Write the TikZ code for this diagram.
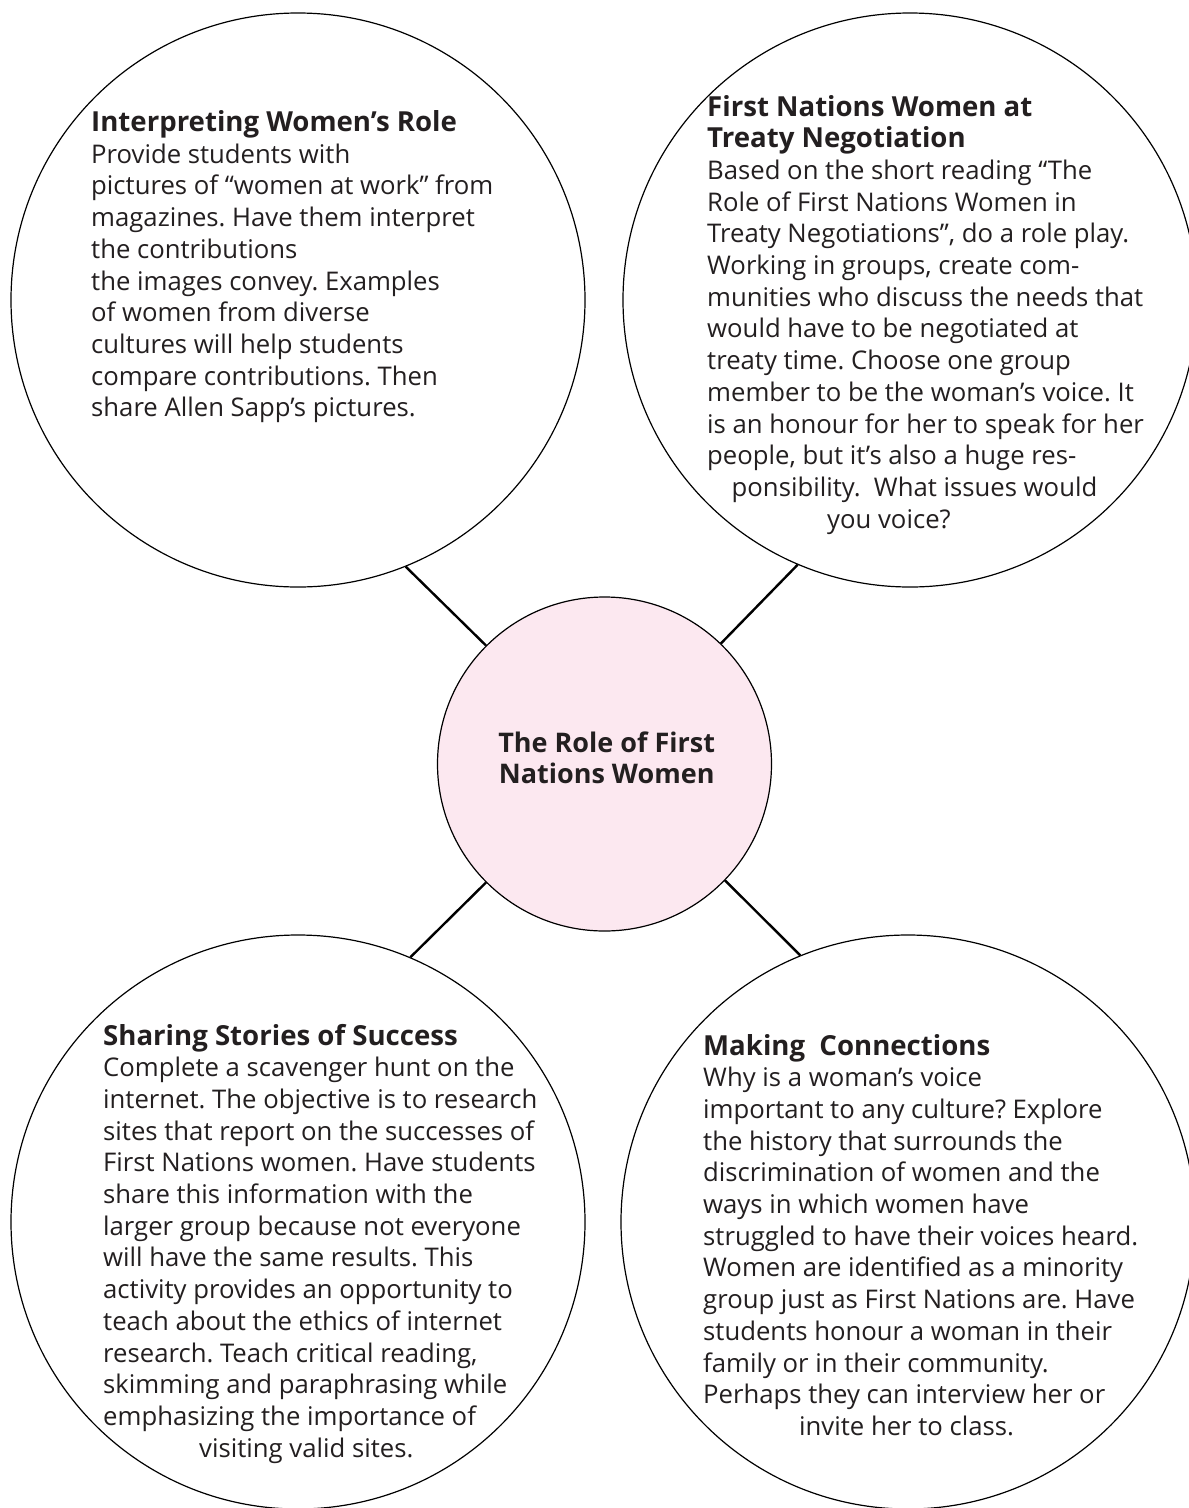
\documentclass[tikz,border=0pt]{standalone}
\usepackage{fontspec}
\setmainfont{Open Sans}
\definecolor{txt}{HTML}{231F20}
\definecolor{pinkfill}{RGB}{252,232,240}
\newcommand\rowline[1]{\hbox{#1}}
\newcommand\headline[1]{\hbox{\fontsize{27.6}{31.7}\selectfont\bfseries #1}}
\newcommand\midline[1]{\hbox to 0pt{\hss#1\hss}}
\begin{document}
\frenchspacing
\begin{tikzpicture}[x=1pt,y=-1pt,
  bubble/.style={circle,draw=black,line width=1.2pt,minimum size=574pt,inner sep=0pt},
  hub/.style={circle,draw=black,line width=1.2pt,fill=pinkfill,minimum size=334pt,inner sep=0pt},
  link/.style={line width=2.4pt,draw=black},
  body/.style={anchor=base west,inner sep=0pt,text=txt,font=\fontsize{25.7}{31.7}\selectfont}]
\useasboundingbox (0,0) rectangle (1189,1508);
\fill[white] (0,0) rectangle (1189,1508);

\node[bubble] (tl) at (298,300) {};
\node[bubble] (tr) at (910,300) {};
\node[bubble] (bl) at (298,1222) {};
\node[bubble] (br) at (908,1222) {};
\node[hub] (hub) at (604.5,764) {};

\draw[link] (tl.-68) -- (hub.135);
\draw[link] (tr.-113) -- (hub.46);
\draw[link] (bl.67) -- (hub.-135);
\draw[link] (br.112) -- (hub.-44);

\node[body] (tltext) at (91,131.5) {\vtop{%
\headline{Interpreting Women’s Role}
\rowline{Provide students with}
\rowline{pictures of “women at work” from}
\rowline{magazines. Have them interpret}
\rowline{the contributions}
\rowline{the images convey. Examples}
\rowline{of women from diverse}
\rowline{cultures will help students}
\rowline{compare contributions. Then}
\rowline{share Allen Sapp’s pictures.}}};

\node[body] (trtext) at (707,116) {\vtop{%
\headline{First Nations Women at}
\headline{Treaty Negotiation}
\rowline{Based on the short reading “The}
\rowline{Role of First Nations Women in}
\rowline{Treaty Negotiations”, do a role play.}
\rowline{Working in groups, create com-}
\rowline{munities who discuss the needs that}
\rowline{would have to be negotiated at}
\rowline{treaty time. Choose one group}
\rowline{member to be the woman’s voice. It}
\rowline{is an honour for her to speak for her}
\rowline{people, but it’s also a huge res-}
\rowline{\kern24.5pt ponsibility.\ \ What issues would}
\rowline{\kern120pt you voice?}}};

\node[body] (bltext) at (103,1045) {\vtop{%
\headline{Sharing Stories of Success}
\rowline{Complete a scavenger hunt on the}
\rowline{internet. The objective is to research}
\rowline{sites that report on the successes of}
\rowline{First Nations women. Have students}
\rowline{share this information with the}
\rowline{larger group because not everyone}
\rowline{will have the same results. This}
\rowline{activity provides an opportunity to}
\rowline{teach about the ethics of internet}
\rowline{research. Teach critical reading,}
\rowline{skimming and paraphrasing while}
\rowline{emphasizing the importance of}
\rowline{\kern96pt visiting valid sites.}}};

\node[body] (brtext) at (703,1055) {\vtop{%
\headline{Making\ \ Connections}
\rowline{Why is a woman’s voice}
\rowline{important to any culture? Explore}
\rowline{the history that surrounds the}
\rowline{discrimination of women and the}
\rowline{ways in which women have}
\rowline{struggled to have their voices heard.}
\rowline{Women are identified as a minority}
\rowline{group just as First Nations are. Have}
\rowline{students honour a woman in their}
\rowline{family or in their community.}
\rowline{Perhaps they can interview her or}
\rowline{\kern96pt invite her to class.}}};

\node[anchor=base west,inner sep=0pt,text=txt,font=\fontsize{27}{31}\selectfont\bfseries] (hubtext) at (606,752) {\vtop{%
\midline{The Role of First}
\midline{Nations Women}}};
\end{tikzpicture}
\end{document}
